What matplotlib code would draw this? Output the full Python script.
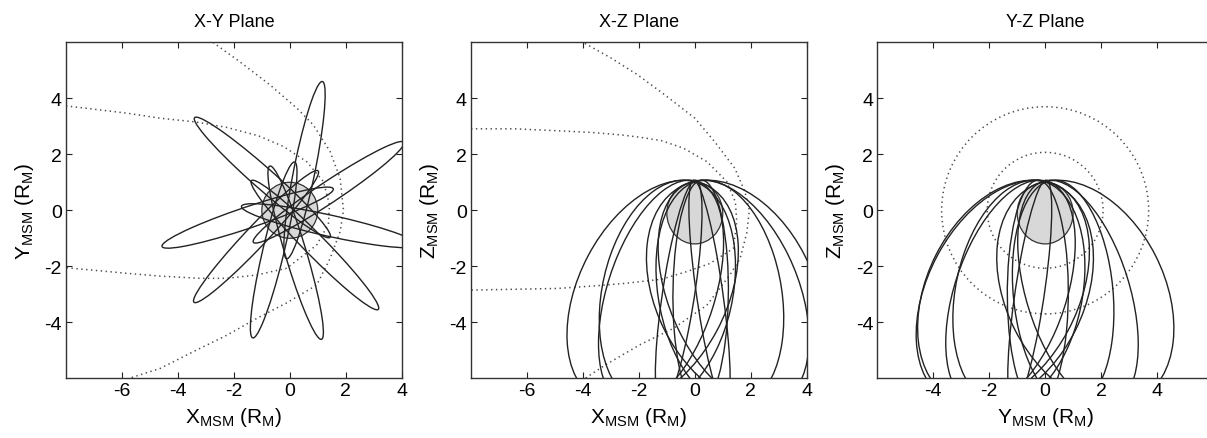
import numpy as np
import matplotlib
matplotlib.use("Agg")
import matplotlib.pyplot as plt
from matplotlib.patches import Ellipse, Circle
from matplotlib.transforms import Affine2D

plt.rcParams['font.family'] = ['Liberation Sans', 'DejaVu Sans']
plt.rcParams['mathtext.fontset'] = 'custom'
plt.rcParams['mathtext.rm'] = 'Liberation Sans'
plt.rcParams['mathtext.it'] = 'Liberation Sans:italic'
plt.rcParams['axes.unicode_minus'] = False

# ── Orbits: local-time angle of each orbit plane (deg from +X toward +Y) ──
orbit_lt_deg = [36, 81, 141, 201, 229, 259, 289, 317, 350]
orbit_plane_tilt = 0.10          # out-of-plane drift per unit Z (inclination ~84 deg)
# in-plane orbit ellipse (h = horizontal along plane, z = Z_MSM), R_M
orbit_center = (1.5, -2.95)
orbit_width = 8.6                # 2a
orbit_height = 5.7               # 2b
orbit_angle = -62.0              # major axis direction

# ── Magnetopause / bow shock traces ──────────────────────────────
mp_xy_x = [-8.0, -5.83, -4.64, -3.33, -2.25, -1.12, -0.23, 0.6, 1.2, 1.42, 1.38, 0.96,
           -0.11, -1.18, -2.25, -3.21, -4.64, -5.83, -8.0]
mp_xy_y = [3.73, 3.47, 3.29, 3.15, 2.96, 2.66, 2.28, 1.74, 1.03, 0.2, -0.5, -1.24,
           -2.07, -2.31, -2.43, -2.43, -2.35, -2.25, -2.05]
bs_xy_x = [-2.75, -1.78, -0.71, 0.25, 0.84, 1.44, 1.8, 1.92, 1.8, 1.44, 0.96, -0.1,
           -1.18, -2.25, -3.45, -4.64, -5.9]
bs_xy_y = [6.0, 5.3, 4.48, 3.65, 3.05, 2.1, 1.14, 0.0, -0.76, -1.72, -2.67, -3.3,
           -3.86, -4.46, -5.05, -5.65, -6.05]

mp_xz_x = [-8.0, -6.43, -4.88, -3.69, -2.61, -1.9, -1.2, -0.41, 0.43, 1.14, 1.45, 1.5,
           1.38, 0.54, -0.29, -1.18, -2.49, -3.45, -4.88, -6.43, -8.0]
mp_xz_z = [2.91, 2.91, 2.84, 2.78, 2.69, 2.6, 2.49, 2.22, 1.74, 1.03, 0.3, -0.4,
           -1.36, -1.9, -2.19, -2.46, -2.61, -2.69, -2.79, -2.82, -2.85]
bs_xz_x = [-3.93, -2.98, -2.03, -1.07, 0.0, 0.71, 1.43, 1.79, 1.95, 1.86, 1.62,
           1.26, 0.43, -0.77, -1.96, -3.21, -3.92]
bs_xz_z = [5.96, 5.43, 4.83, 4.12, 3.29, 2.45, 1.5, 0.67, 0.0, -0.8, -1.72,
           -2.3, -3.39, -4.22, -4.8, -5.53, -6.0]

# Y-Z plane cross sections (circles)
mp_yz_radius = 2.07
bs_yz_radius = 3.7

orbit_color = '#222222'
dot_color = '#4a4a4a'
planet_face = '#d8d8d8'

fig = plt.figure(figsize=(12.07, 4.39), dpi=100)
W, H = 1207.0, 439.0
ax_w = 335.7 / W
ax_h = 336.0 / H
bottom = (H - 379.3) / H
ax_xy = fig.add_axes([66.0 / W, bottom, ax_w, ax_h])
ax_xz = fig.add_axes([471.0 / W, bottom, ax_w, ax_h])
ax_yz = fig.add_axes([877.3 / W, bottom, ax_w, ax_h])

dot_kw = dict(color=dot_color, lw=1.1, dashes=(0.9, 2.3), zorder=2)


def orbit_transform(ax, plane, phi):
    c, s = np.cos(np.radians(phi)), np.sin(np.radians(phi))
    k = orbit_plane_tilt
    if plane == 'xy':
        m = [[c, -k * s, 0], [s, k * c, 0], [0, 0, 1]]
    elif plane == 'xz':
        m = [[c, -k * s, 0], [0, 1, 0], [0, 0, 1]]
    else:
        m = [[s, k * c, 0], [0, 1, 0], [0, 0, 1]]
    return Affine2D(np.array(m, float)) + ax.transData


def draw_orbits(ax, plane):
    for phi in orbit_lt_deg:
        e = Ellipse(orbit_center, orbit_width, orbit_height, angle=orbit_angle,
                    fill=False, ec=orbit_color, lw=1.0, zorder=4,
                    transform=orbit_transform(ax, plane, phi))
        ax.add_patch(e)


# ── X-Y ──────────────────────────────────────────────────────────
ax_xy.add_patch(Circle((0, 0), 1.0, fc=planet_face, ec='#333333', lw=0.9, zorder=3))
ax_xy.plot(mp_xy_x, mp_xy_y, **dot_kw)
ax_xy.plot(bs_xy_x, bs_xy_y, **dot_kw)
draw_orbits(ax_xy, 'xy')

# ── X-Z ──────────────────────────────────────────────────────────
ax_xz.add_patch(Ellipse((0, -0.1), 2.0, 2.2, fc=planet_face, ec='#333333', lw=0.9, zorder=3))
ax_xz.plot(mp_xz_x, mp_xz_z, **dot_kw)
ax_xz.plot(bs_xz_x, bs_xz_z, **dot_kw)
draw_orbits(ax_xz, 'xz')

# ── Y-Z ──────────────────────────────────────────────────────────
ax_yz.add_patch(Ellipse((0, -0.1), 2.0, 2.2, fc=planet_face, ec='#333333', lw=0.9, zorder=3))
for r in (mp_yz_radius, bs_yz_radius):
    ax_yz.add_patch(Circle((0, 0), r, fill=False, ec=dot_color, lw=1.1,
                           linestyle=(0, (0.9, 2.3)), zorder=2))
draw_orbits(ax_yz, 'yz')

panels = [
    (ax_xy, "X-Y Plane", (-8, 4), [-6, -4, -2, 0, 2, 4], 'X', 'Y'),
    (ax_xz, "X-Z Plane", (-8, 4), [-6, -4, -2, 0, 2, 4], 'X', 'Z'),
    (ax_yz, "Y-Z Plane", (-6, 6), [-4, -2, 0, 2, 4], 'Y', 'Z'),
]
for ax, title, xlim, xticks, xl, yl in panels:
    ax.set_xlim(xlim)
    ax.set_ylim(-6, 6)
    ax.set_xticks(xticks)
    ax.set_yticks([-4, -2, 0, 2, 4])
    ax.tick_params(direction='in', length=4, width=0.8, top=True, right=True,
                   labelsize=14, pad=3, colors='#222222', labelcolor='black')
    for sp in ax.spines.values():
        sp.set_linewidth(1.0)
        sp.set_color('#333333')
    ax.set_title(title, fontsize=13, pad=12)
    ax.set_xlabel(xl + r'$_{\mathrm{MSM}}$ (R$_{\mathrm{M}}$)', fontsize=15, labelpad=4)
    ax.set_ylabel(yl + r'$_{\mathrm{MSM}}$ (R$_{\mathrm{M}}$)', fontsize=15, labelpad=6)

fig.savefig("out.png", dpi=100)
